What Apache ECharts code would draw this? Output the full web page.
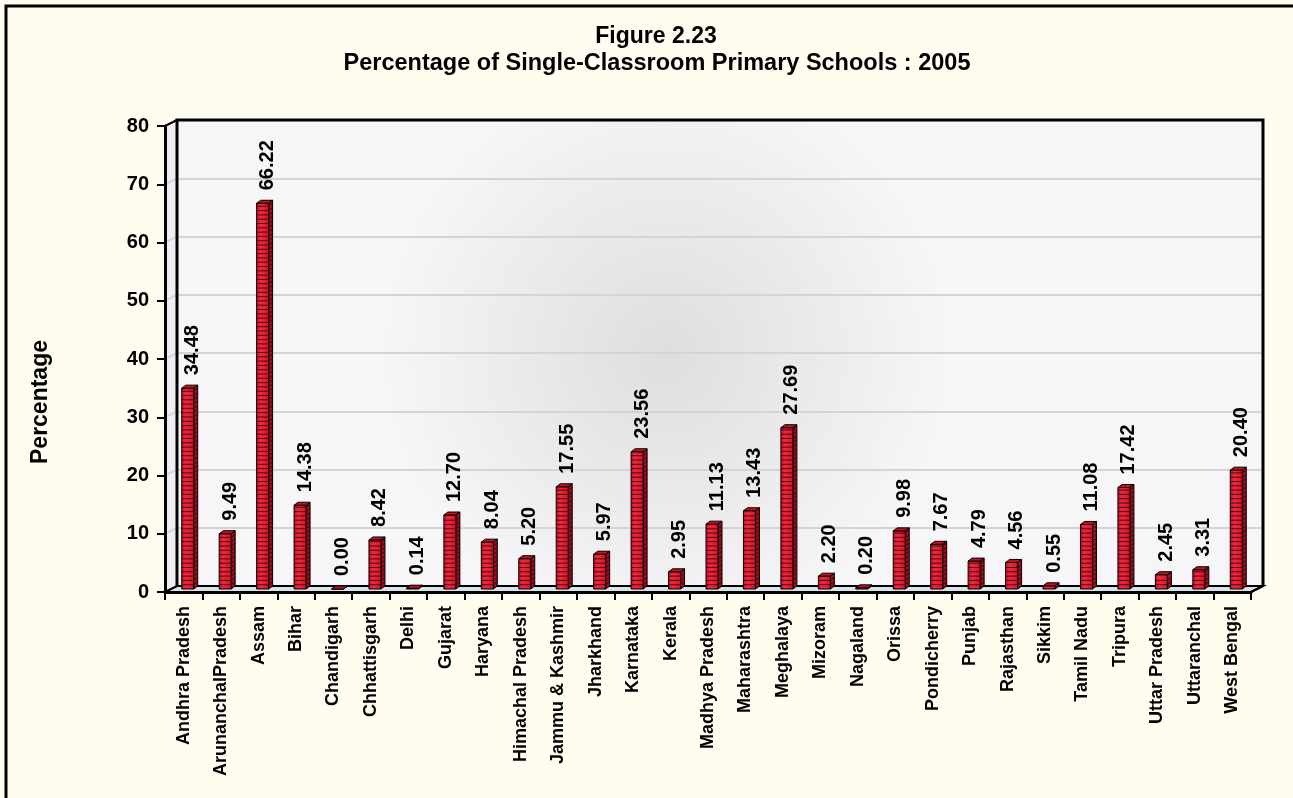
<!DOCTYPE html>
<html><head><meta charset="utf-8">
<script src="https://cdn.jsdelivr.net/npm/echarts/dist/echarts.min.js"></script>
<style>html,body{margin:0;padding:0;background:#FFFDF0;}#c{width:1293px;height:798px;}</style>
</head><body><div id="c"></div>
<script>
// ---- data ----
const categories = ['Andhra Pradesh','ArunanchalPradesh','Assam','Bihar','Chandigarh','Chhattisgarh','Delhi','Gujarat','Haryana','Himachal Pradesh','Jammu & Kashmir','Jharkhand','Karnataka','Kerala','Madhya Pradesh','Maharashtra','Meghalaya','Mizoram','Nagaland','Orissa','Pondicherry','Punjab','Rajasthan','Sikkim','Tamil Nadu','Tripura','Uttar Pradesh','Uttaranchal','West Bengal'];
const values = [34.48,9.49,66.22,14.38,0.00,8.42,0.14,12.70,8.04,5.20,17.55,5.97,23.56,2.95,11.13,13.43,27.69,2.20,0.20,9.98,7.67,4.79,4.56,0.55,11.08,17.42,2.45,3.31,20.40];
const yMin = 0, yMax = 80, yStep = 10;
const titleText = 'Figure 2.23';
const subtitleText = 'Percentage of Single-Classroom Primary Schools : 2005';
const yAxisName = 'Percentage';

// ---- layout ----
const W = 1293, H = 798;
const FONT = '"Liberation Sans", Arial, Helvetica, sans-serif';
const front = {left:165, right:42, top:126, bottom:206};
const DX = 12, DY = 6;
const back = {left:front.left+DX, right:front.right-DX, top:front.top-DY, bottom:front.bottom+DY};
const mid = {left:front.left+DX/2, right:front.right-DX/2, top:front.top-DY/2, bottom:front.bottom+DY/2};

const fx0 = front.left, fx1 = W-front.right, fy0 = front.top, fy1 = H-front.bottom;
const bx0 = back.left, bx1 = W-back.right, by0 = back.top, by1 = H-back.bottom;

const graphics = [];
// outer frame
graphics.push({type:'rect', shape:{x:6,y:6,width:W+20,height:H+20}, style:{fill:null, stroke:'#000', lineWidth:3}, z:0});
// left side wall
graphics.push({type:'polygon', shape:{points:[[fx0,fy0],[bx0,by0],[bx0,by1],[fx0,fy1]]}, style:{fill:'#efeff2', stroke:null}, z:1});
for (let v = yMin+yStep; v < yMax; v += yStep) {
  const fy = fy1 - (v-yMin)/(yMax-yMin)*(fy1-fy0);
  const by = by1 - (v-yMin)/(yMax-yMin)*(by1-by0);
  graphics.push({type:'line', shape:{x1:fx0,y1:fy,x2:bx0,y2:by}, style:{stroke:'#d8d8db', lineWidth:2}, z:1});
}
// floor
graphics.push({type:'polygon', shape:{points:[[fx0,fy1],[bx0,by1],[bx1,by1],[fx1,fy1]]}, style:{fill:'#d7e5ea', stroke:'#000', lineWidth:2}, z:1});
// back wall border
graphics.push({type:'polyline', shape:{points:[[bx0,by1],[bx0,by0],[bx1,by0],[bx1,by1]]}, style:{stroke:'#000', lineWidth:3, fill:null}, z:1});
graphics.push({type:'line', shape:{x1:fx0,y1:fy0,x2:bx0,y2:by0}, style:{stroke:'#000', lineWidth:2}, z:1});
graphics.push({type:'line', shape:{x1:fx1,y1:fy1,x2:bx1,y2:by1}, style:{stroke:'#000', lineWidth:2}, z:1});
// titles
graphics.push({type:'text', x:656, y:37, style:{text:titleText, font:'bold 23px '+FONT, fill:'#000', align:'center', verticalAlign:'middle'}, z:3});
graphics.push({type:'text', x:657, y:64, style:{text:subtitleText, font:'bold 23.5px '+FONT, fill:'#000', align:'center', verticalAlign:'middle'}, z:3});
graphics.push({type:'text', x:41, y:402, rotation:Math.PI/2, style:{text:yAxisName, font:'bold 23px '+FONT, fill:'#000', align:'center', verticalAlign:'middle'}, z:3});

const chart = echarts.init(document.getElementById('c'), null, {renderer:'canvas'});
chart.setOption({
  backgroundColor:'#FFFDF0',
  animation:false,
  grid:[
    Object.assign({}, front, {containLabel:false}),
    Object.assign({}, back, {containLabel:false, show:true, borderWidth:0,
      backgroundColor:{type:'radial', x:0.45, y:0.5, r:0.6, colorStops:[{offset:0,color:'#dedede'},{offset:1,color:'#f6f6f8'}]}}),
    Object.assign({}, mid, {containLabel:false})
  ],
  xAxis:[
    {type:'category', gridIndex:0, data:categories, boundaryGap:true,
     axisLine:{show:true, lineStyle:{color:'#000', width:3}},
     axisTick:{show:true, length:8, lineStyle:{color:'#000', width:2}},
     axisLabel:{interval:0, rotate:90, margin:14, color:'#000', fontFamily:FONT, fontWeight:'bold', fontSize:18},
     splitLine:{show:false}, z:4},
    {type:'category', gridIndex:1, data:categories, show:false},
    {type:'category', gridIndex:2, data:categories, show:false}
  ],
  yAxis:[
    {type:'value', gridIndex:0, min:yMin, max:yMax, interval:yStep,
     axisLine:{show:true, lineStyle:{color:'#000', width:3}},
     axisTick:{show:true, length:8, lineStyle:{color:'#000', width:2}},
     axisLabel:{margin:16, color:'#000', fontFamily:FONT, fontWeight:'bold', fontSize:20},
     splitLine:{show:false}, z:4},
    {type:'value', gridIndex:1, min:yMin, max:yMax, interval:yStep,
     axisLine:{show:false}, axisTick:{show:false}, axisLabel:{show:false},
     splitLine:{show:true, lineStyle:{color:'#d4d4d6', width:2}}},
    {type:'value', gridIndex:2, min:yMin, max:yMax, interval:yStep, show:false}
  ],
  graphic:graphics,
  series:[{
    type:'custom', xAxisIndex:2, yAxisIndex:2, z:5,
    data: values.map((v,i)=>[i,v]),
    renderItem:function(params, api){
      const i = api.value(0), v = api.value(1);
      const top = api.coord([i, v]);
      const base = api.coord([i, 0]);
      const w = 12, dx = 4, dy = 3;
      const x0 = top[0] - w/2 - dx/2;
      const yT = top[1], yB = base[1];
      const ch = [];
      ch.push({type:'polygon', shape:{points:[[x0+w,yT],[x0+w+dx,yT-dy],[x0+w+dx,yB-dy],[x0+w,yB]]},
        style:{fill:'#9e0d1c', stroke:'#000', lineWidth:1}});
      ch.push({type:'rect', shape:{x:x0, y:yT, width:w, height:yB-yT},
        style:{fill:new echarts.graphic.LinearGradient(0,0,1,0,[{offset:0,color:'#c8102a'},{offset:0.35,color:'#f2283c'},{offset:1,color:'#d0142c'}]), stroke:'#000', lineWidth:1}});
      for (let y = yB-4.3; y > yT+1.5; y -= 4.3) {
        ch.push({type:'line', shape:{x1:x0, y1:y, x2:x0+w, y2:y}, style:{stroke:'#4a0810', lineWidth:1}});
        ch.push({type:'line', shape:{x1:x0+w, y1:y, x2:x0+w+dx, y2:y-dy}, style:{stroke:'#3a0008', lineWidth:1}});
      }
      ch.push({type:'polygon', shape:{points:[[x0,yT],[x0+dx,yT-dy],[x0+w+dx,yT-dy],[x0+w,yT]]},
        style:{fill:'#c4101f', stroke:'#000', lineWidth:1}});
      ch.push({type:'text', x:top[0]+3, y:yT-dy-10, rotation:Math.PI/2,
        style:{text:v.toFixed(2), font:'bold 20px '+FONT, fill:'#000', align:'left', verticalAlign:'middle'}});
      return {type:'group', children:ch};
    }
  }]
});
</script></body></html>
